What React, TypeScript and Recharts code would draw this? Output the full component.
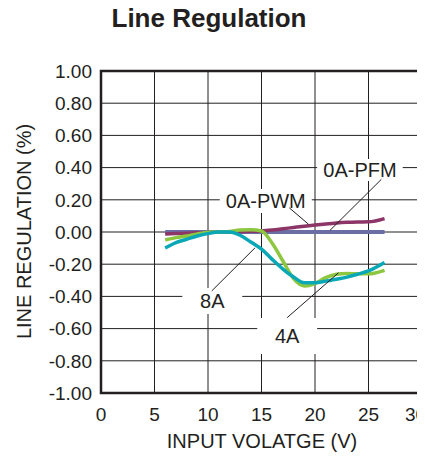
import {
  LineChart,
  Line,
  XAxis,
  YAxis,
  CartesianGrid,
  ReferenceArea,
  ReferenceLine,
} from 'recharts';

// input voltage points (V)
const volts = [6, 7, 8, 9, 10, 11, 12, 13, 14, 15, 16, 17, 18, 19, 20, 21, 22, 23, 24, 25, 26.5];

// line regulation (%) per load condition
const pwm0A = [0, 0, 0, 0, 0, 0, 0, 0, 0, 0, 0, 0, 0, 0, 0, 0, 0, 0, 0, 0, 0];
const pfm0A = [-0.012, -0.01, -0.008, -0.005, -0.003, 0, 0, 0.002, 0.004, 0.006, 0.012, 0.02, 0.028, 0.036, 0.043, 0.05, 0.056, 0.06, 0.062, 0.063, 0.083];
const load4A = [-0.05, -0.035, -0.025, -0.012, -0.002, 0, 0.003, 0.012, 0.014, 0.006, -0.07, -0.18, -0.29, -0.335, -0.32, -0.284, -0.263, -0.258, -0.26, -0.26, -0.238];
const load8A = [-0.1, -0.066, -0.045, -0.025, -0.01, 0, 0, -0.02, -0.062, -0.106, -0.17, -0.23, -0.28, -0.315, -0.315, -0.305, -0.293, -0.28, -0.262, -0.242, -0.19];

const xTicks = [0, 5, 10, 15, 20, 25, 30];
const yTicks = [-1, -0.8, -0.6, -0.4, -0.2, 0, 0.2, 0.4, 0.6, 0.8, 1];

const chartData = volts.map((v, i) => ({
  v,
  pwm: pwm0A[i],
  pfm: pfm0A[i],
  a4: load4A[i],
  a8: load8A[i],
}));

const font = '"Liberation Sans", Arial, sans-serif';
const ink = '#231f20';

// callout boxes + leader lines
const callouts = [
  { text: '0A-PFM', box: [20.2, 28.2, 0.317, 0.453], lead: [26.2, 0.327, 21.4, 0.01] },
  { text: '0A-PWM', box: [11.1, 19.7, 0.118, 0.267], lead: [17.6, 0.15, 19.4, 0.048] },
  { text: '8A', box: [7.6, 13.2, -0.509, -0.348], lead: [10.35, -0.366, 14.4, -0.098] },
  { text: '4A', box: [14.6, 20.2, -0.758, -0.534], lead: [17.4, -0.532, 22.2, -0.253] },
];

export default function App() {
  return (
    <div style={{ position: 'relative', width: 425, height: 466, margin: '-8px 0 0 -8px', background: '#fff' }}>
      <LineChart
        width={425}
        height={466}
        data={chartData}
        margin={{ top: 71, right: 3, left: 0, bottom: 0 }}
      >
        <CartesianGrid stroke={ink} strokeWidth={1} />
        <XAxis
          dataKey="v"
          type="number"
          domain={[0, 30]}
          ticks={xTicks}
          axisLine={false}
          tickLine={false}
          tickSize={0}
          tickMargin={15}
          height={73}
          tick={{ fill: ink, fontSize: 19, fontFamily: font }}
        />
        <YAxis
          type="number"
          domain={[-1, 1]}
          ticks={yTicks}
          width={101}
          axisLine={false}
          tickLine={false}
          tickSize={0}
          tickMargin={9}
          tick={{ fill: ink, fontSize: 19, fontFamily: font }}
          tickFormatter={(v) => v.toFixed(2)}
        />
        {callouts.map((c) => (
          <ReferenceArea
            key={c.text}
            x1={c.box[0]}
            x2={c.box[1]}
            y1={c.box[2]}
            y2={c.box[3]}
            fill="#fff"
            fillOpacity={1}
            stroke="none"
            label={{ value: c.text, position: 'center', fill: ink, fontSize: 20, fontFamily: font }}
          />
        ))}
        <Line type="monotone" dataKey="pwm" stroke="#6b6ea5" strokeWidth={4} dot={false} isAnimationActive={false} />
        <Line type="monotone" dataKey="pfm" stroke="#8c3567" strokeWidth={3.5} dot={false} isAnimationActive={false} />
        <Line type="monotone" dataKey="a4" stroke="#8dc63f" strokeWidth={3.5} dot={false} isAnimationActive={false} />
        <Line type="monotone" dataKey="a8" stroke="#0aa8b6" strokeWidth={3.5} dot={false} isAnimationActive={false} />
        {callouts.map((c) => (
          <ReferenceLine
            key={c.text + '-lead'}
            segment={[
              { x: c.lead[0], y: c.lead[1] },
              { x: c.lead[2], y: c.lead[3] },
            ]}
            stroke={ink}
            strokeWidth={1}
          />
        ))}
        <ReferenceArea
          x1={0}
          x2={30}
          y1={-1}
          y2={1}
          fill="none"
          stroke={ink}
          strokeWidth={2.5}
          ifOverflow="visible"
        />
      </LineChart>
      <svg
        width={425}
        height={466}
        style={{ position: 'absolute', left: 0, top: 0, pointerEvents: 'none' }}
      >
        <text x={209} y={27} textAnchor="middle" fontFamily={font} fontWeight="bold" fontSize={26} fill={ink}>
          Line Regulation
        </text>
        <text x={262} y={448} textAnchor="middle" fontFamily={font} fontSize={20} fill={ink}>
          INPUT VOLATGE (V)
        </text>
        <text
          x={0}
          y={0}
          transform="translate(31,231.5) rotate(-90)"
          textAnchor="middle"
          fontFamily={font}
          fontSize={20}
          fill={ink}
        >
          LINE REGULATION (%)
        </text>
      </svg>
    </div>
  );
}
